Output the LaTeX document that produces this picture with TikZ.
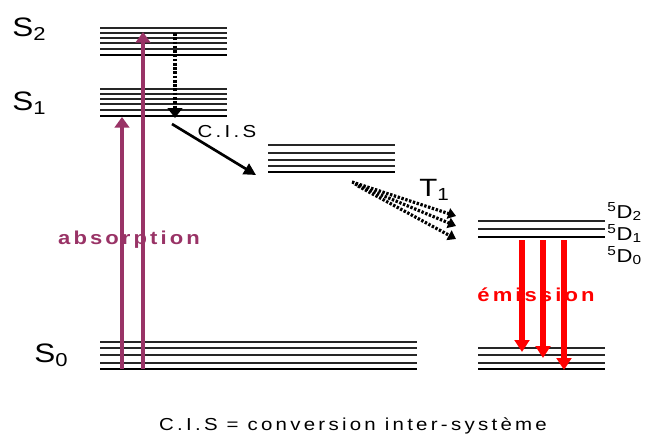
\documentclass[tikz,border=0pt]{standalone}
\usepackage{fontspec}
\setmainfont{Liberation Sans}
\usetikzlibrary{arrows.meta}
\definecolor{absorb}{RGB}{153,51,102}
\definecolor{emit}{RGB}{255,0,0}
\newcommand\widetxt[1]{\scalebox{1.18}[1]{#1}}
\begin{document}
\begin{tikzpicture}[x=0.75pt,y=-0.75pt,
  level/.style={line width=0.9pt, black!85},
  levelbase/.style={line width=1.9pt, black},
  absarrow/.style={line width=3pt, absorb, -{Triangle[width=11pt,length=8pt]}},
  emiarrow/.style={line width=4.5pt, emit, -{Triangle[width=11pt,length=9pt]}},
  relaxarrow/.style={line width=3.2pt, black, dash pattern=on 2pt off 1.2pt, -{Triangle[width=11pt,length=7.5pt]}},
  cisarrow/.style={line width=2pt, black, -{Triangle[width=9pt,length=9pt]}},
  tarrow/.style={line width=2.4pt, black, dash pattern=on 1.8pt off 1.2pt, -{Triangle[width=8pt,length=6pt]}},
  statelabel/.style={font=\fontsize{20}{23}\selectfont, inner sep=0pt, anchor=base west},
  tlabel/.style={font=\fontsize{18.75}{22}\selectfont, inner sep=0pt, anchor=base west},
  dlabel/.style={font=\fontsize{14}{16}\selectfont, inner sep=0pt, anchor=base west},
  spaced/.style={font=\fontsize{13}{15}\selectfont\addfontfeature{LetterSpace=16}, inner sep=0pt},
  boldspaced/.style={font=\fontsize{14}{16}\selectfont\bfseries\addfontfeature{LetterSpace=14}, inner sep=0pt}
]
\useasboundingbox (0,0) rectangle (647,440);

% S2 levels
\foreach \y in {28,33,38,43,49} \draw[level] (100,\y) -- (227,\y);
\draw[levelbase] (100,55) -- (227,55);
% S1 levels
\foreach \y in {89,94,99,104,110} \draw[level] (100,\y) -- (227,\y);
\draw[levelbase] (100,116) -- (227,116);
% T1 levels
\foreach \y in {145,153,160,166} \draw[level] (268,\y) -- (395,\y);
\draw[levelbase] (268,172) -- (395,172);
% S0 levels
\foreach \y in {342,348,355,363} \draw[level] (100,\y) -- (417,\y);
\draw[levelbase] (100,369) -- (417,369);
% 5D levels
\foreach \y in {221,229} \draw[level] (478,\y) -- (605,\y);
\draw[levelbase] (478,237) -- (605,237);
% lower levels
\foreach \y in {348,355,363} \draw[level] (478,\y) -- (605,\y);
\draw[levelbase] (478,369) -- (605,369);

% labels
\node[statelabel] (lS2) at (12,36) {\widetxt{S\textsubscript{2}}};
\node[statelabel] (lS1) at (12,110) {\widetxt{S\textsubscript{1}}};
\node[statelabel] (lS0) at (34,362) {\widetxt{S\textsubscript{0}}};
\node[tlabel] (lT1) at (419,196) {\widetxt{T\textsubscript{1}}};
\node[dlabel] (lD2) at (607,218) {\widetxt{\textsuperscript{5}D\textsubscript{2}}};
\node[dlabel] (lD1) at (607,240) {\widetxt{\textsuperscript{5}D\textsubscript{1}}};
\node[dlabel] (lD0) at (607,262) {\widetxt{\textsuperscript{5}D\textsubscript{0}}};
\node[spaced] (lcis) at (227,132) {\widetxt{C.I.S}};
\node[boldspaced, text=absorb] (labs) at (129,240) {\widetxt{absorption}};
\node[boldspaced, text=emit] (lemi) at (536,295) {\widetxt{émission}};
\node[spaced] (caption) at (353,426) {\widetxt{C.I.S = conversion inter-système}};

% coordinates
\coordinate (a1s) at (122,369); \coordinate (a1e) at (122,117);
\coordinate (a2s) at (143,369); \coordinate (a2e) at (143,32);
\coordinate (rs) at (175,33);   \coordinate (re) at (175,118);
\coordinate (cs) at (172,124);  \coordinate (ce) at (256,175);
\coordinate (t1s) at (352,182); \coordinate (t1e) at (456,216);
\coordinate (t2s) at (355,184); \coordinate (t2e) at (456,226);
\coordinate (t3s) at (358,186); \coordinate (t3e) at (456,239);
\coordinate (e1s) at (522,240); \coordinate (e1e) at (522,352);
\coordinate (e2s) at (543,240); \coordinate (e2e) at (543,358);
\coordinate (e3s) at (564,240); \coordinate (e3e) at (564,370);

% arrows
\draw[absarrow] (a1s) -- (a1e);
\draw[absarrow] (a2s) -- (a2e);
\draw[relaxarrow] (rs) -- (re);
\draw[cisarrow] (cs) -- (ce);
\draw[tarrow] (t1s) -- (t1e);
\draw[tarrow] (t2s) -- (t2e);
\draw[tarrow] (t3s) -- (t3e);
\draw[emiarrow] (e1s) -- (e1e);
\draw[emiarrow] (e2s) -- (e2e);
\draw[emiarrow] (e3s) -- (e3e);
\end{tikzpicture}
\end{document}
